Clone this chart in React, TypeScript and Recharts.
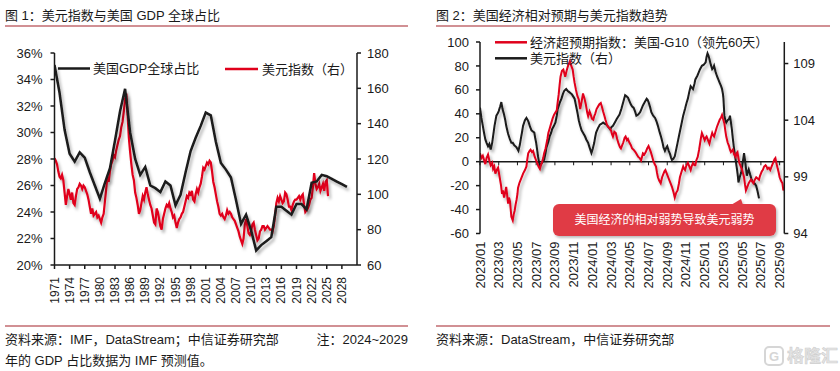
import React from "react";
import { LineChart, Line, XAxis, YAxis, ReferenceLine } from "recharts";

const FONT = '"Liberation Sans", Arial, "Noto Sans CJK SC", sans-serif';
const RED = "#e0001b";
const INK = "#1a1a1a";
const RULE = "#a3232b";

// 图1：美国GDP全球占比（年度，%）
const gdpYears = [
  1971, 1972, 1973, 1974, 1975, 1976, 1977, 1978, 1979, 1980,
  1981, 1982, 1983, 1984, 1985, 1986, 1987, 1988, 1989, 1990,
  1991, 1992, 1993, 1994, 1995, 1996, 1997, 1998, 1999, 2000,
  2001, 2002, 2003, 2004, 2005, 2006, 2007, 2008, 2009, 2010,
  2011, 2012, 2013, 2014, 2015, 2016, 2017, 2018, 2019, 2020,
  2021, 2022, 2023, 2024, 2025, 2026, 2027, 2028, 2029,
];
const gdpShare = [
  35.1, 33.0, 30.2, 28.4, 27.8, 28.5, 28.1, 27.0, 26.0, 25.0,
  26.2, 27.3, 29.4, 31.6, 33.3, 30.0, 28.0, 26.8, 27.4, 26.0,
  25.8, 25.5, 26.3, 26.0, 24.5, 25.3, 27.0, 28.6, 29.6, 30.5,
  31.5, 31.3, 29.3, 27.7, 27.2, 26.6, 24.9, 23.1, 23.8, 22.6,
  21.1, 21.5, 21.8, 22.1, 24.4, 24.4, 24.1, 23.8, 24.6, 24.6,
  24.2, 26.2, 26.3, 26.8, 26.7, 26.5, 26.3, 26.1, 25.9,
];

// 美元指数，季度，从1971年起
const dxyStart = 1971;
const dxyQuarterly = [
  120.5, 119, 117, 113, 110, 109, 111, 108, 101, 94, 99, 103,
  100, 97, 101, 95, 94, 99, 103, 104, 106, 105, 103, 105,
  104, 102, 100, 97, 93, 89, 92, 88, 89, 90, 87, 88,
  86, 84, 87, 89, 96, 103, 110, 107, 113, 117, 119, 122,
  121, 125, 128, 131, 133, 138, 141, 147, 154, 157, 145, 132,
  124, 117, 111, 108, 101, 98, 94, 89, 91, 95, 99, 97,
  101, 104, 100, 97, 94, 92, 88, 84, 83, 92, 90, 86,
  82, 80, 86, 89, 92, 94, 93, 95, 92, 90, 87, 88,
  84, 81, 84, 86, 87, 89, 90, 93, 96, 99, 98, 101,
  100, 102, 97, 96, 100, 103, 101, 104, 106, 110, 115, 114,
  116, 118, 117, 119, 118, 113, 107, 104, 100, 96, 93, 89,
  88, 89, 87, 86, 88, 91, 89, 90, 89, 87, 86, 85,
  83, 81, 79, 76, 74, 72, 75, 83, 86, 82, 78, 77,
  79, 83, 84, 80, 77, 74, 75, 79, 80, 82, 82, 80,
  81, 82, 81, 80, 80, 79, 82, 88, 95, 98, 96, 99,
  97, 95, 96, 101, 100, 97, 93, 93, 91, 94, 96, 97,
  97, 98, 99, 97, 99, 100, 94, 90, 91, 92, 94, 97,
  98, 104, 112, 106, 103, 104, 106, 102, 104, 106, 102, 107,
  108, 99,
];
const yearTicks = [
  1971, 1974, 1977, 1980, 1983, 1986, 1989, 1992, 1995, 1998,
  2001, 2004, 2007, 2010, 2013, 2016, 2019, 2022, 2025, 2028,
];

// 图2：[距2023/01的月数, 数值]
const surprise: [number, number][] = [
  [0, 7], [0.15, 3], [0.3, 5], [0.45, 1], [0.57, -2], [0.7, 3], [0.86, 6], [1.0, 1],
  [1.14, -3], [1.3, -1], [1.4, -6], [1.52, -4], [1.64, -10], [1.78, -7], [1.93, -5],
  [2.1, -13], [2.25, -20], [2.35, -27], [2.45, -24], [2.57, -30], [2.68, -26], [2.8, -21],
  [2.9, -28], [3.0, -35], [3.1, -30], [3.2, -33], [3.35, -46], [3.5, -49], [3.6, -44],
  [3.7, -41], [3.8, -36], [3.9, -32], [4.0, -27], [4.06, -22], [4.2, -18], [4.35, -15],
  [4.5, -12], [4.6, -10], [4.8, -7], [4.96, -4], [5.05, 2], [5.15, 7], [5.3, 9], [5.4, 10],
  [5.55, 8], [5.67, 9], [5.85, 4], [6.0, 1], [6.1, -1], [6.25, -4], [6.4, -6], [6.5, -3],
  [6.6, -1], [6.75, 3], [6.85, 7], [7.0, 11], [7.1, 15], [7.2, 19], [7.3, 24], [7.45, 28],
  [7.6, 32], [7.75, 36], [7.9, 39], [8.05, 41], [8.2, 43], [8.3, 50], [8.4, 56], [8.5, 64],
  [8.6, 71], [8.75, 76], [8.9, 77], [9.0, 74], [9.1, 71], [9.25, 76], [9.4, 80], [9.5, 82],
  [9.6, 84], [9.75, 80], [9.9, 77], [10.0, 71], [10.1, 66], [10.25, 60], [10.4, 55],
  [10.55, 52], [10.7, 44], [10.85, 50], [11.0, 57], [11.15, 53], [11.3, 48], [11.45, 41],
  [11.55, 38], [11.7, 42], [11.8, 40], [11.95, 36], [12.1, 35], [12.2, 38], [12.3, 40],
  [12.45, 44], [12.6, 46], [12.75, 48], [12.9, 49], [13.05, 45], [13.15, 42], [13.3, 38],
  [13.4, 35], [13.55, 31], [13.7, 29], [13.85, 28], [14.0, 26], [14.1, 23], [14.2, 21],
  [14.35, 25], [14.5, 24], [14.65, 19], [14.8, 15], [14.95, 12], [15.05, 11], [15.2, 14],
  [15.3, 16], [15.45, 20], [15.55, 21], [15.7, 18], [15.8, 19], [15.95, 16], [16.1, 14],
  [16.25, 11], [16.4, 10], [16.5, 9], [16.6, 8], [16.75, 6], [16.9, 4], [17.05, 3],
  [17.2, 1], [17.3, 4], [17.4, 7], [17.55, 6], [17.7, 8], [17.85, 11], [18.0, 13],
  [18.15, 10], [18.25, 8], [18.4, 4], [18.5, 1], [18.65, -2], [18.8, -4], [18.9, -9],
  [19.0, -13], [19.15, -16], [19.3, -18], [19.45, -13], [19.6, -10], [19.7, -8], [19.8, -7],
  [19.95, -10], [20.1, -13], [20.25, -16], [20.4, -19], [20.5, -21], [20.65, -25],
  [20.8, -30], [20.95, -26], [21.1, -24], [21.25, -18], [21.35, -13], [21.5, -9],
  [21.7, -4], [21.8, -6], [21.9, -7], [22.05, -3], [22.2, -1], [22.35, -4], [22.5, -7],
  [22.6, -4], [22.75, -1], [22.9, -3], [23.0, -3], [23.1, 1], [23.25, 4], [23.4, 10],
  [23.5, 15], [23.6, 20], [23.7, 24], [23.85, 21], [24.0, 18], [24.1, 20], [24.2, 21],
  [24.35, 18], [24.5, 15], [24.65, 20], [24.8, 24], [24.9, 22], [25.0, 21], [25.15, 25],
  [25.3, 29], [25.45, 32], [25.6, 35], [25.75, 37], [25.85, 39], [25.95, 36], [26.1, 32],
  [26.2, 26], [26.3, 21], [26.45, 16], [26.6, 13], [26.7, 10], [26.8, 8], [26.9, 9],
  [27.0, 10], [27.15, 6], [27.3, 4], [27.4, 7], [27.5, 8], [27.6, 3], [27.7, -1],
  [27.85, -4], [28.0, -7], [28.1, -10], [28.2, -13], [28.3, -19], [28.4, -24], [28.55, -21],
  [28.7, -18], [28.85, -16], [28.95, -15], [29.1, -17], [29.2, -18], [29.35, -15],
  [29.5, -13], [29.65, -14], [29.8, -15], [29.9, -12], [30.0, -10], [30.1, -8], [30.2, -7],
  [30.35, -4], [30.5, -3], [30.6, -4], [30.7, -6], [30.85, -5], [31.0, -7], [31.15, -4],
  [31.3, -1], [31.45, 2], [31.55, 3], [31.65, -1], [31.8, -6], [31.9, -9], [32.0, -13],
  [32.15, -16], [32.3, -18], [32.4, -24], [32.5, -22],
];

const dollar: [number, number][] = [
  [0, 105.1], [0.15, 104.2], [0.3, 103.5], [0.45, 102.8], [0.57, 102.3], [0.7, 102.0],
  [0.86, 101.7], [1.0, 101.9], [1.14, 101.4], [1.3, 102.0], [1.4, 102.6], [1.55, 103.5],
  [1.75, 104.4], [1.9, 104.6], [2.0, 104.8], [2.15, 105.2], [2.28, 105.6], [2.4, 105.0],
  [2.57, 104.5], [2.7, 104.0], [2.8, 103.5], [3.0, 102.8], [3.2, 102.3], [3.35, 102.0],
  [3.5, 102.0], [3.65, 101.8], [3.9, 101.6], [4.1, 101.3], [4.25, 101.8], [4.35, 102.3],
  [4.5, 103.0], [4.6, 103.5], [4.8, 104.0], [4.96, 104.2], [5.1, 104.0], [5.2, 103.8],
  [5.35, 103.4], [5.5, 103.1], [5.65, 103.0], [5.8, 102.9], [5.9, 102.4], [6.0, 102.0],
  [6.1, 101.4], [6.2, 100.8], [6.3, 100.3], [6.4, 99.9], [6.5, 100.1], [6.6, 100.2],
  [6.75, 100.4], [6.85, 100.5], [7.0, 101.1], [7.1, 101.6], [7.3, 102.1], [7.45, 102.6],
  [7.6, 102.9], [7.7, 103.2], [7.9, 103.5], [8.06, 103.8], [8.2, 104.4], [8.3, 105.0],
  [8.5, 105.5], [8.7, 105.9], [8.85, 106.3], [9.0, 106.6], [9.2, 106.75], [9.35, 106.6],
  [9.5, 106.5], [9.65, 106.4], [9.8, 106.3], [9.95, 106.1], [10.1, 105.9], [10.25, 105.3],
  [10.4, 104.7], [10.55, 104.0], [10.7, 103.5], [10.85, 103.1], [11.0, 102.9], [11.2, 102.6],
  [11.35, 102.3], [11.55, 102.0], [11.7, 101.6], [11.9, 101.1], [12.05, 101.5], [12.2, 102.0],
  [12.3, 102.5], [12.4, 102.9], [12.6, 103.3], [12.8, 103.6], [13.0, 103.7], [13.15, 103.8],
  [13.3, 103.7], [13.5, 103.6], [13.7, 103.4], [13.9, 103.2], [14.05, 103.4], [14.2, 103.5],
  [14.4, 103.8], [14.6, 104.1], [14.75, 104.3], [14.9, 104.5], [15.1, 105.0], [15.3, 105.6],
  [15.5, 106.2], [15.65, 106.1], [15.8, 106.0], [15.95, 105.7], [16.1, 105.4], [16.25, 105.2],
  [16.4, 105.1], [16.55, 104.8], [16.7, 104.4], [16.9, 104.5], [17.1, 104.7], [17.25, 105.0],
  [17.4, 105.3], [17.6, 105.6], [17.8, 105.9], [17.9, 105.8], [18.0, 105.6], [18.15, 105.2],
  [18.3, 104.7], [18.5, 104.4], [18.7, 104.2], [18.85, 103.9], [19.0, 103.5], [19.1, 103.2],
  [19.2, 102.9], [19.35, 102.5], [19.5, 102.0], [19.6, 101.6], [19.75, 101.3], [19.85, 101.5],
  [20.0, 101.7], [20.15, 101.3], [20.3, 101.0], [20.4, 100.7], [20.5, 100.5], [20.65, 100.6],
  [20.8, 100.8], [20.95, 101.4], [21.1, 102.0], [21.25, 102.6], [21.4, 103.2], [21.55, 103.8],
  [21.7, 104.4], [21.8, 104.7], [21.9, 105.0], [22.05, 105.5], [22.2, 105.9], [22.35, 106.5],
  [22.5, 107.0], [22.6, 106.9], [22.75, 106.75], [22.9, 107.2], [23.0, 107.6], [23.2, 107.9],
  [23.35, 108.2], [23.5, 108.5], [23.7, 108.8], [23.9, 108.9], [24.1, 109.1], [24.2, 109.6],
  [24.3, 109.9], [24.4, 109.7], [24.5, 109.4], [24.65, 108.9], [24.8, 108.5], [24.9, 108.6],
  [25.0, 108.8], [25.15, 108.3], [25.3, 107.9], [25.45, 107.6], [25.6, 107.3], [25.75, 107.0],
  [25.85, 106.75], [25.95, 106.3], [26.0, 105.9], [26.1, 104.4], [26.2, 104.0], [26.3, 103.8],
  [26.45, 104.0], [26.6, 104.1], [26.7, 104.4], [26.8, 103.8], [26.9, 103.2], [27.0, 102.4],
  [27.1, 101.7], [27.2, 101.1], [27.3, 100.5], [27.45, 99.65], [27.55, 99.0], [27.6, 98.5],
  [27.75, 99.0], [27.9, 99.4], [28.05, 100.2], [28.2, 101.1], [28.3, 100.5], [28.4, 99.8],
  [28.5, 99.1], [28.6, 99.4], [28.7, 99.65], [28.85, 99.2], [29.0, 98.8], [29.1, 98.6],
  [29.2, 98.5], [29.35, 98.4], [29.5, 98.2], [29.65, 97.7], [29.8, 97.1],
];

const monthTicks = [
  "2023/01", "2023/03", "2023/05", "2023/07", "2023/09", "2023/11",
  "2024/01", "2024/03", "2024/05", "2024/07", "2024/09", "2024/11",
  "2025/01", "2025/03", "2025/05", "2025/07", "2025/09",
];

const gdpData = gdpYears.map((x, i) => ({ x, v: gdpShare[i] }));
const dxyData = dxyQuarterly.map((v, i) => ({ x: dxyStart + i / 4, v }));
const surpriseData = surprise.map(([x, v]) => ({ x, v }));
const dollarData = dollar.map(([x, v]) => ({ x, v }));
const monthPos = monthTicks.map((_, i) => i * 2);

const tickStyle = { fontSize: 13, fill: INK, fontFamily: FONT };

function VTick(props: any) {
  const { x, y, payload, fontSize, labelOf } = props;
  return (
    <text
      transform={`translate(${x},${y}) rotate(-90)`}
      textAnchor="end"
      dominantBaseline="central"
      fontSize={fontSize}
      fill={INK}
      fontFamily={FONT}
    >
      {labelOf(payload.value)}
    </text>
  );
}

function Shadow({ id }: { id: string }) {
  return (
    <defs>
      <filter id={id} filterUnits="userSpaceOnUse" x="0" y="0" width="420" height="320">
        <feDropShadow dx="2" dy="3" stdDeviation="1.4" floodColor="#000" floodOpacity="0.3" />
      </filter>
    </defs>
  );
}

function GdpChart() {
  return (
    <LineChart width={420} height={320} margin={{ top: 53, right: 13, bottom: 5, left: 4.5 }}>
      <Shadow id="sh1" />
      <XAxis
        type="number"
        dataKey="x"
        domain={[1971, 2031]}
        ticks={yearTicks}
        interval={0}
        allowDataOverflow
        height={50}
        stroke={INK}
        strokeWidth={1.5}
        tickSize={4}
        tickMargin={8}
        tick={(p: any) => <VTick {...p} fontSize={12} labelOf={(v: number) => String(v)} />}
      />
      <YAxis
        yAxisId="l"
        domain={[20, 36]}
        ticks={[20, 22, 24, 26, 28, 30, 32, 34, 36]}
        interval={0}
        width={50}
        stroke={INK}
        strokeWidth={1.5}
        tickSize={4}
        tickMargin={8}
        tick={tickStyle}
        tickFormatter={(v: number) => `${v}%`}
      />
      <YAxis
        yAxisId="r"
        orientation="right"
        domain={[60, 180]}
        ticks={[60, 80, 100, 120, 140, 160, 180]}
        interval={0}
        width={50}
        stroke={INK}
        strokeWidth={1.5}
        tickSize={4}
        tickMargin={6}
        tick={{ ...tickStyle, textAnchor: "start" }}
      />
      <Line
        yAxisId="r"
        data={dxyData}
        dataKey="v"
        type="linear"
        stroke={RED}
        strokeWidth={2.2}
        dot={false}
        filter="url(#sh1)"
        isAnimationActive={false}
      />
      <Line
        yAxisId="l"
        data={gdpData}
        dataKey="v"
        type="linear"
        stroke={INK}
        strokeWidth={2.5}
        dot={false}
        filter="url(#sh1)"
        isAnimationActive={false}
      />
    </LineChart>
  );
}

function SurpriseChart() {
  return (
    <LineChart width={420} height={320} margin={{ top: 42, right: 5.7, bottom: 16.5, left: 10 }}>
      <Shadow id="sh2" />
      <XAxis
        type="number"
        dataKey="x"
        domain={[0, 32.5]}
        ticks={monthPos}
        interval={0}
        allowDataOverflow
        height={70}
        axisLine={false}
        tickLine={false}
        tickSize={0}
        tickMargin={8}
        tick={(p: any) => (
          <VTick {...p} fontSize={13} labelOf={(v: number) => monthTicks[Math.round(v / 2)]} />
        )}
      />
      <YAxis
        yAxisId="l"
        domain={[-60, 100]}
        ticks={[-60, -40, -20, 0, 20, 40, 60, 80, 100]}
        interval={0}
        width={50}
        stroke={INK}
        strokeWidth={1.5}
        tickSize={4}
        tickMargin={7}
        tick={tickStyle}
      />
      <YAxis
        yAxisId="r"
        orientation="right"
        domain={[94, 110.9]}
        ticks={[94, 99, 104, 109]}
        interval={0}
        allowDataOverflow
        width={50}
        stroke={INK}
        strokeWidth={1.5}
        tickSize={4}
        tickMargin={5}
        tick={{ ...tickStyle, textAnchor: "start" }}
      />
      <ReferenceLine yAxisId="l" y={0} stroke={INK} strokeWidth={1.5} />
      {monthPos.map((m) => (
        <ReferenceLine
          key={m}
          yAxisId="l"
          segment={[{ x: m, y: 0 }, { x: m, y: -3 }]}
          stroke={INK}
          strokeWidth={1}
        />
      ))}
      <Line
        yAxisId="r"
        data={dollarData}
        dataKey="v"
        type="linear"
        stroke={INK}
        strokeWidth={2}
        dot={false}
        filter="url(#sh2)"
        isAnimationActive={false}
      />
      <Line
        yAxisId="l"
        data={surpriseData}
        dataKey="v"
        type="linear"
        stroke={RED}
        strokeWidth={2}
        dot={false}
        filter="url(#sh2)"
        isAnimationActive={false}
      />
    </LineChart>
  );
}

export default function App() {
  const txt = { fontFamily: FONT, fill: INK, dominantBaseline: "central" as const };
  return (
    <div
      style={{
        position: "absolute",
        left: 0,
        top: 0,
        width: 840,
        height: 371,
        background: "#fff",
        overflow: "hidden",
        fontFamily: FONT,
      }}
    >
      <div style={{ position: "absolute", left: 0, top: 0 }}>
        <GdpChart />
      </div>
      <div style={{ position: "absolute", left: 420, top: 0 }}>
        <SurpriseChart />
      </div>
      <svg
        width={840}
        height={371}
        style={{ position: "absolute", left: 0, top: 0, pointerEvents: "none" }}
      >
        <defs>
          <filter id="boxsh" x="-10%" y="-20%" width="120%" height="160%">
            <feDropShadow dx="1.5" dy="2" stdDeviation="1.2" floodColor="#000" floodOpacity="0.25" />
          </filter>
        </defs>
        {/* titles */}
        <text x={5} y={15} fontSize={13} {...txt}>图 1：美元指数与美国 GDP 全球占比</text>
        <line x1={5} x2={408} y1={26} y2={26} stroke={RULE} strokeWidth={1.2} />
        <text x={436} y={15} fontSize={13} {...txt}>图 2：美国经济相对预期与美元指数趋势</text>
        <line x1={436} x2={830} y1={26} y2={26} stroke={RULE} strokeWidth={1.2} />

        {/* legend 1 */}
        <line x1={58} x2={90} y1={68.5} y2={68.5} stroke={INK} strokeWidth={2.5} />
        <text x={93} y={68.5} fontSize={13} {...txt}>美国GDP全球占比</text>
        <line x1={225} x2={258} y1={69} y2={69} stroke={RED} strokeWidth={2.5} />
        <text x={262} y={69} fontSize={13} {...txt}>美元指数（右）</text>

        {/* legend 2 */}
        <line x1={495} x2={527} y1={42.3} y2={42.3} stroke={RED} strokeWidth={2.5} />
        <text x={530} y={42.3} fontSize={13} {...txt}>经济超预期指数：美国-G10（领先60天）</text>
        <line x1={495} x2={527} y1={58.3} y2={58.3} stroke={INK} strokeWidth={2.5} />
        <text x={530} y={58.3} fontSize={13} {...txt}>美元指数（右）</text>

        {/* annotation */}
        <g filter="url(#boxsh)">
          <rect x={553} y={204} width={223} height={32} rx={6} fill="#e03a45" />
          <polygon points="731,205 741,199 743,205" fill="#e03a45" />
        </g>
        <text x={664.5} y={220} fontSize={12} textAnchor="middle" fontFamily={FONT} fill="#fff" dominantBaseline="central">
          美国经济的相对弱势导致美元弱势
        </text>

        {/* footers */}
        <line x1={5} x2={408} y1={326} y2={326} stroke={RULE} strokeWidth={1.2} />
        <text x={5} y={339} fontSize={13} {...txt}>资料来源：IMF，DataStream；中信证券研究部</text>
        <text x={408} y={339} fontSize={13} textAnchor="end" {...txt}>注：2024~2029</text>
        <text x={5} y={360} fontSize={13} {...txt}>年的 GDP 占比数据为 IMF 预测值。</text>
        <line x1={436} x2={830} y1={326} y2={326} stroke={RULE} strokeWidth={1.2} />
        <text x={436} y={339} fontSize={13} {...txt}>资料来源：DataStream，中信证券研究部</text>

        {/* watermark */}
        <rect x={765} y={347} width={18} height={18} rx={4} fill="none" stroke="#d6d6d6" strokeWidth={2} />
        <text x={774} y={356.5} fontSize={13} textAnchor="middle" dominantBaseline="central" fontFamily={FONT} fill="#d6d6d6" fontWeight="bold">G</text>
        <text x={787} y={356.5} fontSize={17} dominantBaseline="central" fontFamily={FONT} fill="#e4e4e4" stroke="#cfcfcf" strokeWidth={0.6} fontWeight="bold">格隆汇</text>
      </svg>
    </div>
  );
}
